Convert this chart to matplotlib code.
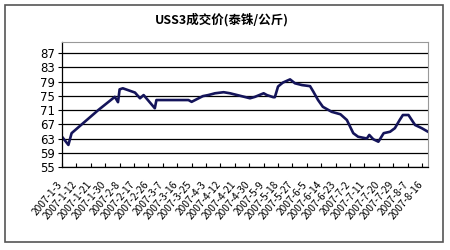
import matplotlib
matplotlib.use("Agg")
import matplotlib.pyplot as plt
import matplotlib.transforms as mtransforms
from matplotlib.patches import Rectangle

plt.rcParams['font.family'] = ['Noto Sans CJK SC', 'DejaVu Sans']

# days counted from 2007-1-3, price in baht/kg
days = [0, 4, 6, 22.7, 33, 35, 36, 38, 45.6, 48.75, 51, 58, 59, 79, 81, 88, 91.4,
        95.6, 101, 105, 117.5, 120.6, 126, 128, 132, 133, 135, 138, 142.5, 145.6,
        150, 155, 157, 160, 163, 168.5, 174, 178, 182, 185, 190.5, 192, 194.5,
        197.7, 201, 205, 208, 211, 213, 216.5, 220.6, 224.8, 228.7]
prices = [63.5, 61.2, 64.5, 71.0, 74.7, 73.2, 76.8, 77.1, 75.9, 74.3, 75.2, 71.5, 73.8,
          73.8, 73.3, 74.9, 75.2, 75.7, 76.0, 75.7, 74.3, 74.7, 75.7, 75.2, 74.6, 74.6,
          77.6, 78.7, 79.6, 78.5, 78.0, 77.7, 76.2, 73.8, 71.9, 70.5, 69.8, 68.2, 64.5,
          63.5, 63.0, 64.0, 62.8, 62.1, 64.5, 64.9, 65.9, 68.2, 69.6, 69.6, 66.8, 65.9,
          64.9]

tick_days = list(range(0, 226, 9))
tick_labels = ['2007-1-3', '2007-1-12', '2007-1-21', '2007-1-30', '2007-2-8',
               '2007-2-17', '2007-2-26', '2007-3-7', '2007-3-16', '2007-3-25',
               '2007-4-3', '2007-4-12', '2007-4-21', '2007-4-30', '2007-5-9',
               '2007-5-18', '2007-5-27', '2007-6-5', '2007-6-14', '2007-6-23',
               '2007-7-2', '2007-7-11', '2007-7-20', '2007-7-29', '2007-8-7',
               '2007-8-16']
y_ticks = [55, 59, 63, 67, 71, 75, 79, 83, 87]

fig = plt.figure(figsize=(4.5, 2.5), dpi=100)
fig.patches.append(Rectangle((5 / 450, 8 / 250), 438 / 450, 237 / 250,
                             transform=fig.transFigure, fill=False,
                             edgecolor='#555555', linewidth=1.2))

ax = fig.add_axes([62 / 450, 1 - 167 / 250, 366 / 450, 125 / 250])
ax.plot(days, prices, color='#14145a', linewidth=1.9)

ax.set_xlim(0, 228.7)
ax.set_ylim(55, 90.1)
ax.set_yticks(y_ticks)
ax.set_yticklabels([str(v) for v in y_ticks], fontsize=8.5, family='DejaVu Sans')
ax.yaxis.grid(True, color='black', linewidth=0.9)
ax.tick_params(axis='y', length=3, pad=2, width=0.8)

ax.set_xticks(tick_days)
ax.set_xticklabels(tick_labels, rotation=50, ha='right', rotation_mode='anchor',
                   fontsize=7.3)
ax.tick_params(axis='x', direction='in', length=3, pad=9, width=0.8)
offset = mtransforms.ScaledTranslation(-5 / 100, 0, fig.dpi_scale_trans)
for lab in ax.get_xticklabels():
    lab.set_transform(lab.get_transform() + offset)

for side in ['top', 'right']:
    ax.spines[side].set_color('#999999')
for side in ['left', 'bottom']:
    ax.spines[side].set_color('black')
    ax.spines[side].set_linewidth(0.9)

fig.text(222 / 450, 1 - 20 / 250, 'USS3成交价(泰铢/公斤)', ha='center', va='center',
         fontsize=9, fontweight='bold')

fig.savefig('out.png', dpi=100)
